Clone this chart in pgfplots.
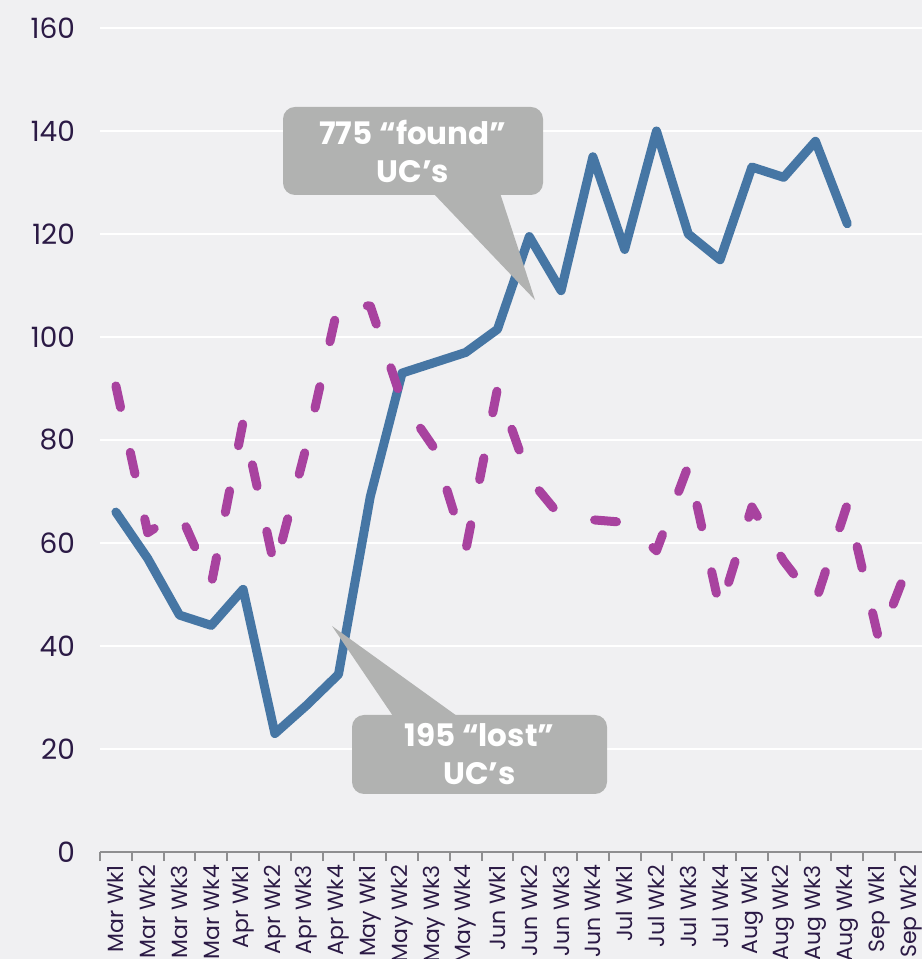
\documentclass[border=0pt]{standalone}
\usepackage{pgfplots}
\pgfplotsset{compat=1.18}
\usepackage{fontspec}
\setmainfont{Poppins}
\definecolor{bg}{HTML}{F0F0F2}
\definecolor{blueline}{HTML}{4676A4}
\definecolor{pinkline}{HTML}{A8429F}
\definecolor{tickc}{HTML}{2B1A45}
\definecolor{callout}{HTML}{B1B2B1}
\definecolor{axisgray}{HTML}{8E8E90}
\begin{document}
\begin{tikzpicture}
\fill[bg] (-50pt,-53.5pt) rectangle (411pt,426pt);
\begin{axis}[
  at={(0pt,0pt)}, anchor=south west,
  scale only axis, width=411pt, height=412pt,
  xmin=-0.5, xmax=25.35, ymin=0, ymax=160,
  ytick={0,20,...,160},
  xtick={0,...,25},
  xticklabels={Mar Wk1,Mar Wk2,Mar Wk3,Mar Wk4,Apr Wk1,Apr Wk2,Apr Wk3,Apr Wk4,May Wk1,May Wk2,May Wk3,May Wk4,Jun Wk1,Jun Wk2,Jun Wk3,Jun Wk4,Jul Wk1,Jul Wk2,Jul Wk3,Jul Wk4,Aug Wk1,Aug Wk2,Aug Wk3,Aug Wk4,Sep Wk1,Sep Wk2},
  minor xtick={-0.5,0.5,...,25.5},
  axis x line*=bottom, axis y line*=left,
  y axis line style={draw=none},
  x axis line style={draw=axisgray, line width=1pt, -},
  major tick length=0pt, minor tick length=4.5pt, tick align=outside,
  xtick style={draw=axisgray, line width=1pt},
  ytick style={draw=none},
  ymajorgrids=true,
  major grid style={white, line width=1pt},
  /pgf/number format/assume math mode=true,
  yticklabel style={font=\fontsize{14}{16}\selectfont, text=tickc, anchor=east, xshift=-9pt},
  xticklabel style={font=\fontsize{11}{13}\selectfont, text=tickc, yshift=-3pt, rotate=90, anchor=east},
]
\addplot[blueline, line width=4.5pt, line join=round, line cap=round] coordinates {
(0,66) (1,57) (2,46) (3,44) (4,51) (5,23) (6,28.5) (7,34.5) (8,69) (9,93) (10,95) (11,97)
(12,101.5) (13,119.5) (14,109) (15,135) (16,117) (17,140) (18,120) (19,115) (20,133) (21,131) (22,138) (23,122)};
\addplot[pinkline, line width=4.5pt, line join=round, line cap=round, dash pattern=on 11pt off 23pt] coordinates {
(0,90.5) (1,62) (2,66) (3,52) (4,83.5) (5,55) (6,79) (7,106.5) (8,106) (9,87.5) (10,78.5) (11,58.5)
(12,90) (13,72.5) (14,65) (15,64.5) (16,64) (17,58.5) (18,75) (19,47) (20,67) (21,56.5) (22,48.5) (23,67.5) (24,41) (25,57)};
\end{axis}
\fill[callout, rounded corners=6pt] (91.5pt,328.5pt) rectangle (221.5pt,372.5pt);
\fill[callout] (166.5pt,329.5pt) -- (217.5pt,276pt) -- (200pt,329.5pt) -- cycle;
\node[text=white, font=\bfseries\fontsize{15.5}{19}\selectfont, align=center] at (156.5pt,350.5pt) {775 “found”\\UC’s};
\fill[callout, rounded corners=6pt] (126pt,29pt) rectangle (253.5pt,68.5pt);
\fill[callout] (146.5pt,68pt) -- (116pt,113pt) -- (178.5pt,68pt) -- cycle;
\node[text=white, font=\bfseries\fontsize{15.5}{19}\selectfont, align=center] at (189.75pt,48.75pt) {195 “lost”\\UC’s};
\pgfresetboundingbox
\useasboundingbox (-50pt,-53.5pt) rectangle (411pt,426pt);
\end{tikzpicture}
\end{document}
